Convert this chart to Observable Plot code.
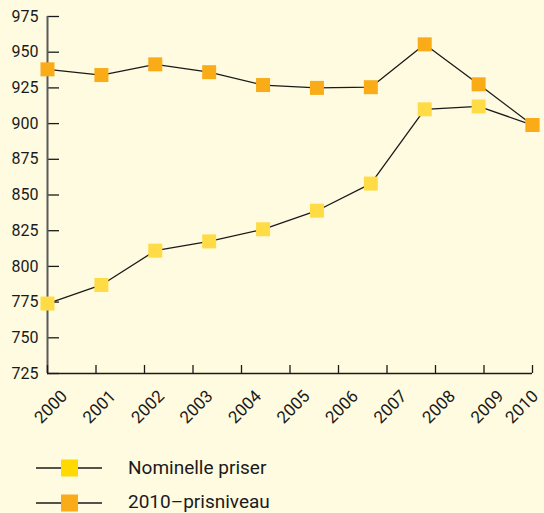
<!DOCTYPE html>
<html>
<head>
<meta charset="utf-8">
<script src="https://cdn.jsdelivr.net/npm/d3@7"></script>
<script src="https://cdn.jsdelivr.net/npm/@observablehq/plot@0.6"></script>
<style>
  html, body { margin: 0; padding: 0; background: #FFFBE0; overflow: hidden; }
  #wrap { position: relative; width: 544px; height: 440px; }
  #wrap svg { position: absolute; left: 0; top: 0; background: transparent; }
  #legend { display: block; }
</style>
</head>
<body>
<div id="wrap"></div>
<svg id="legend" width="544" height="73"></svg>
<script>
// Tick labels (x axis) and y ticks
const years = [2000, 2001, 2002, 2003, 2004, 2005, 2006, 2007, 2008, 2009, 2010];
const yTicks = [725, 750, 775, 800, 825, 850, 875, 900, 925, 950, 975];
// Observations (10 evenly spaced points across the decade)
const obs = [1, 2, 3, 4, 5, 6, 7, 8, 9, 10];
const nominelle = [774, 787, 811, 817.5, 826, 839, 858, 910, 912, 899];
const prisniveau2010 = [938, 934, 941.5, 936, 927, 925, 925.5, 955.5, 927.5, 899];
const seriesNames = ["Nominelle priser", "2010\u2013prisniveau"];
const chartColors = ["#FFDC45", "#F9AB18"];
const legendColors = ["#FFD900", "#F9AB18"];

const W = 544, H = 440;
const margins = {marginLeft: 47, marginRight: 12, marginTop: 16, marginBottom: 67};
const yScale = {domain: [725, 975]};
const font = "Roboto, 'Noto Sans', sans-serif";
const ink = "#1a1a1a";

const rows = [];
obs.forEach((o, i) => {
  rows.push({o, v: nominelle[i], s: seriesNames[0]});
  rows.push({o, v: prisniveau2010[i], s: seriesNames[1]});
});

const xLabel = (ticks, dx) => Plot.axisX({ticks, tickSize: 0, tickFormat: d => String(d), tickRotate: -45,
  tickPadding: 4, textAnchor: "end", dx, dy: 16, label: null, fontSize: 17, fill: ink});

const axisPlot = Plot.plot({
  width: W, height: H, ...margins,
  style: {background: "transparent", fontFamily: font, fontSize: "16px", color: ink},
  x: {domain: [2000, 2010]},
  y: yScale,
  marks: [
    Plot.axisY({ticks: yTicks, tickSize: -12, text: null, stroke: ink, strokeWidth: 1.3}),
    Plot.axisY({ticks: yTicks, tickSize: 0, tickPadding: 9, label: null, fontSize: 16, fill: ink}),
    Plot.ruleX([2000], {stroke: "#5a5a5a", strokeWidth: 2}),
    Plot.ruleY([725], {stroke: ink, strokeWidth: 1.3}),
    Plot.axisX({ticks: years, tickSize: -8, text: null, stroke: ink, strokeWidth: 1.3}),
    xLabel(years.slice(0, -1), 17),
    xLabel(years.slice(-1), 3)
  ]
});

const dataPlot = Plot.plot({
  width: W, height: H, ...margins,
  style: {background: "transparent"},
  x: {type: "linear", domain: [obs[0], obs[obs.length - 1]], axis: null},
  y: {...yScale, axis: null},
  color: {domain: seriesNames, range: chartColors},
  marks: [
    Plot.line(rows, {x: "o", y: "v", z: "s", stroke: ink, strokeWidth: 1.3}),
    Plot.dot(rows, {x: "o", y: "v", fill: "s", symbol: "square", r: 7.9, stroke: null})
  ]
});

const wrap = document.getElementById("wrap");
wrap.appendChild(axisPlot);
wrap.appendChild(dataPlot);

const legend = d3.select("#legend");
const rowY = [28, 63];
seriesNames.forEach((name, i) => {
  const g = legend.append("g").attr("transform", `translate(0,${rowY[i]})`);
  g.append("line").attr("x1", 36).attr("x2", 102).attr("y1", 0).attr("y2", 0)
    .attr("stroke", ink).attr("stroke-width", 1.3);
  g.append("rect").attr("x", 61).attr("y", -8.5).attr("width", 17).attr("height", 17)
    .attr("fill", legendColors[i]);
  g.append("text").attr("x", 128).attr("y", i === 0 ? 6 : 5).attr("fill", ink)
    .style("font-family", font).style("font-size", "19px").text(name);
});
</script>
</body>
</html>
